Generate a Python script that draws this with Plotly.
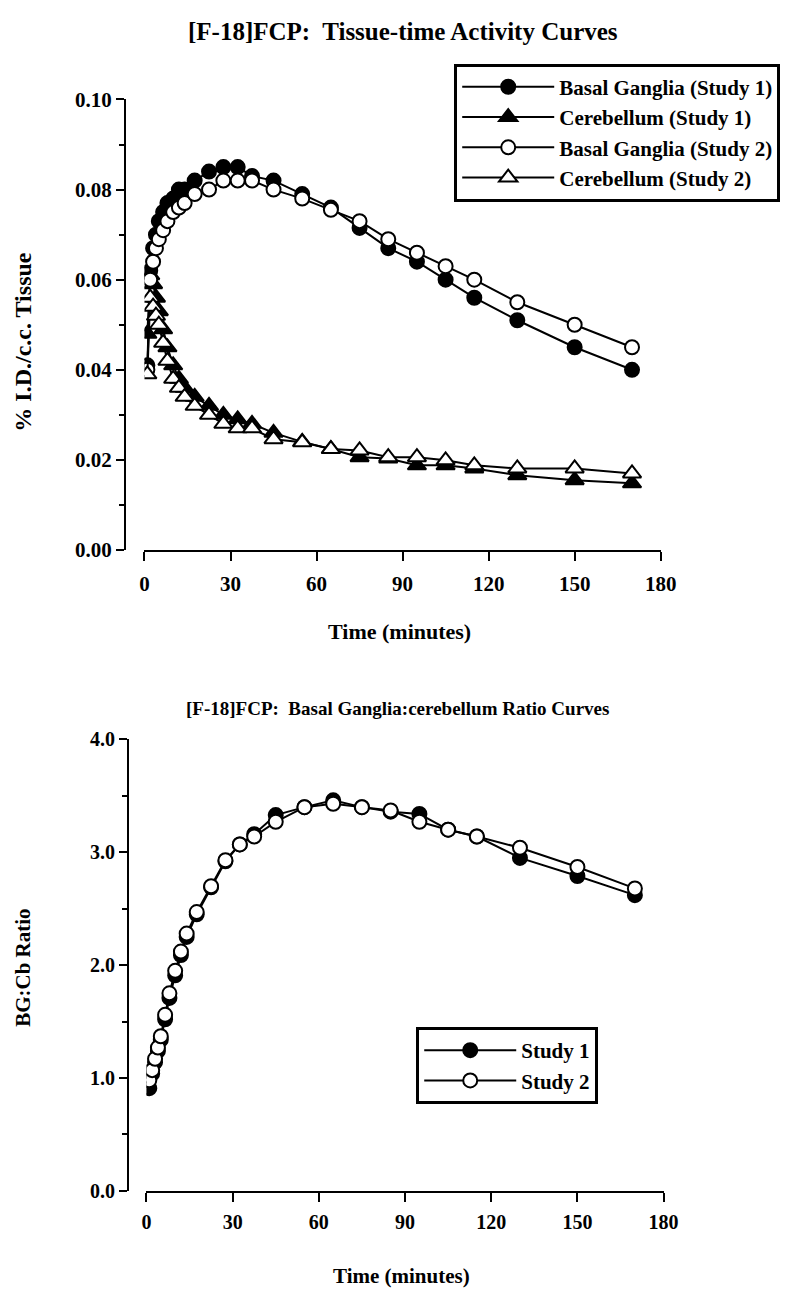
import plotly.graph_objects as go

W, H = 807, 1295
PAD = 8  # page body margin around the plot div

# sampling times (minutes)
times = [1, 2, 3, 4, 5, 6.5, 8, 10, 12, 14, 17.5, 22.5, 27.5, 32.5, 37.5,
         45, 55, 65, 75, 85, 95, 105, 115, 130, 150, 170]

# % I.D./c.c. tissue
bg_study1 = [0.041, 0.062, 0.067, 0.070, 0.073, 0.075, 0.077, 0.078, 0.080, 0.080,
             0.082, 0.084, 0.085, 0.085, 0.083, 0.082, 0.079, 0.076, 0.0715, 0.067,
             0.064, 0.060, 0.056, 0.051, 0.045, 0.040]
cb_study1 = [0.048, 0.061, 0.059, 0.056, 0.053, 0.049, 0.045, 0.041, 0.038, 0.036,
             0.034, 0.032, 0.030, 0.029, 0.028, 0.026, 0.024, 0.0224, 0.0206, 0.0203,
             0.0188, 0.0188, 0.0181, 0.0166, 0.0155, 0.0148]
bg_study2 = [0.040, 0.060, 0.064, 0.067, 0.069, 0.071, 0.073, 0.075, 0.076, 0.077,
             0.079, 0.080, 0.082, 0.082, 0.082, 0.080, 0.078, 0.0755, 0.073, 0.069,
             0.066, 0.063, 0.060, 0.055, 0.050, 0.045]
cb_study2 = [0.039, 0.056, 0.054, 0.052, 0.050, 0.046, 0.042, 0.038, 0.036, 0.034,
             0.032, 0.030, 0.028, 0.027, 0.027, 0.0246, 0.0239, 0.0224, 0.0221, 0.0206,
             0.0206, 0.0199, 0.0188, 0.0181, 0.0181, 0.0170]

# BG:Cb ratio
ratio_study1 = [0.91, 1.04, 1.14, 1.24, 1.34, 1.52, 1.71, 1.91, 2.09, 2.25,
                2.45, 2.69, 2.92, 3.07, 3.16, 3.33, 3.40, 3.46, 3.40, 3.36,
                3.34, 3.20, 3.14, 2.95, 2.79, 2.62]
ratio_study2 = [0.98, 1.07, 1.17, 1.27, 1.37, 1.56, 1.75, 1.95, 2.12, 2.28,
                2.47, 2.70, 2.93, 3.07, 3.14, 3.27, 3.40, 3.43, 3.40, 3.37,
                3.27, 3.20, 3.14, 3.04, 2.87, 2.68]

x_ticks = [0, 30, 60, 90, 120, 150, 180]

FONT = "Liberation Serif"


def fx(p):
    return (p - PAD) / W


def fy(p):
    return 1 - (p - PAD) / H


def bold(size):
    return dict(family=FONT, size=size, color="black", weight="bold")


def marker(symbol, filled, size):
    return dict(
        symbol=symbol,
        size=size,
        color="black" if filled else "white",
        line=dict(color="black", width=2),
    )


fig = go.Figure()

top_series = [
    ("Basal Ganglia (Study 1)", bg_study1, "circle", True),
    ("Cerebellum (Study 1)", cb_study1, "triangle-up", True),
    ("Basal Ganglia (Study 2)", bg_study2, "circle", False),
    ("Cerebellum (Study 2)", cb_study2, "triangle-up", False),
]
for name, vals, sym, filled in top_series:
    fig.add_trace(go.Scatter(
        x=times, y=vals, mode="lines+markers", name=name,
        line=dict(color="black", width=2),
        marker=marker(sym, filled, 14 if sym == "circle" else 16),
        xaxis="x", yaxis="y", legend="legend",
    ))

bottom_series = [
    ("Study 1", ratio_study1, True),
    ("Study 2", ratio_study2, False),
]
for name, vals, filled in bottom_series:
    fig.add_trace(go.Scatter(
        x=times, y=vals, mode="lines+markers", name=name,
        line=dict(color="black", width=2),
        marker=marker("circle", filled, 14),
        xaxis="x2", yaxis="y2", legend="legend2",
    ))

common_x = dict(
    range=[0, 180], tickvals=x_ticks, showline=True, linecolor="black", linewidth=2,
    ticks="outside", ticklen=9, tickwidth=2, tickcolor="black", showgrid=False,
    zeroline=False,
)
common_y = dict(
    showline=True, linecolor="black", linewidth=2, ticks="outside", ticklen=8,
    tickwidth=2, tickcolor="black", showgrid=False, zeroline=False, anchor="free",
)
legend_common = dict(
    xanchor="left", bordercolor="black", borderwidth=3,
    bgcolor="white", font=bold(21), tracegroupgap=0, itemwidth=92,
)

fig.update_layout(
    width=W, height=H,
    margin=dict(l=0, r=0, t=0, b=0),
    paper_bgcolor="white", plot_bgcolor="white",
    font=dict(family=FONT, color="black"),
    xaxis=dict(common_x, domain=[fx(143), fx(673)], anchor="y",
               tickfont=bold(21), ticklabelstandoff=5),
    yaxis=dict(common_y, domain=[fy(548), fy(89)], range=[0, 0.10],
               dtick=0.02, tickformat=".2f", position=fx(123), tickfont=bold(21),
               minor=dict(dtick=0.01, ticks="outside", ticklen=5, tickwidth=2,
                          tickcolor="black")),
    xaxis2=dict(common_x, domain=[fx(145), fx(676)], anchor="y2",
                tickfont=bold(20), ticklabelstandoff=3),
    yaxis2=dict(common_y, domain=[fy(1201), fy(741)], range=[0, 4.0],
                dtick=1.0, tickformat=".1f", position=fx(126), tickfont=bold(20),
                minor=dict(dtick=0.5, ticks="outside", ticklen=5, tickwidth=2,
                           tickcolor="black")),
    legend=dict(legend_common, x=fx(461), y=fy(193), yanchor="bottom"),
    legend2=dict(legend_common, x=fx(422), y=fy(1034), yanchor="top"),
    showlegend=True,
)

texts = [
    ("[F-18]FCP:  Tissue-time Activity Curves", 408, 20, 0, 25),
    ("Time (minutes)", 405, 631, 0, 22),
    ("% I.D./c.c. Tissue", 18, 336, -90, 24),
    ("[F-18]FCP:  Basal Ganglia:cerebellum Ratio Curves", 403, 710, 0, 19),
    ("Time (minutes)", 407, 1288, 0, 21),
    ("BG:Cb Ratio", 18, 974, -90, 21),
]
for text, x, y, angle, size in texts:
    fig.add_annotation(
        text=text, x=fx(x), y=fy(y), xref="paper", yref="paper",
        showarrow=False, textangle=angle, font=bold(size),
        xanchor="center", yanchor="middle",
    )

fig.write_html("out.html")
